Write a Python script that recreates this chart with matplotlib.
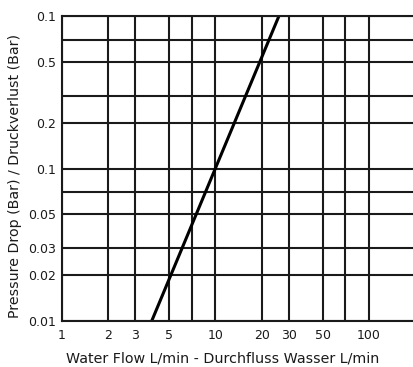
import matplotlib
matplotlib.use("Agg")
import matplotlib.pyplot as plt
from matplotlib.ticker import FixedLocator, FixedFormatter, NullFormatter

# Data
flow = [3.84, 25.9]          # L/min
pressure = [0.01, 1.0]       # bar

x_ticks = [1, 2, 3, 5, 10, 20, 30, 50, 100]
x_tick_labels = ["1", "2", "3", "5", "10", "20", "30", "50", "100"]
x_minor = [7, 70]
y_ticks = [0.01, 0.02, 0.03, 0.05, 0.1, 0.2, 0.5, 1.0]
y_tick_labels = ["0.01", "0.02", "0.03", "0.05", "0.1", "0.2", "0.5", "0.1"]
y_minor = [0.07, 0.3, 0.7]

W, H = 414, 367
fig = plt.figure(figsize=(W / 100, H / 100), dpi=100)
ax = fig.add_axes([62 / W, 1 - 321 / H, (W - 62) / W, (321 - 16) / H])

ax.set_xscale("log")
ax.set_yscale("log")
ax.set_xlim(1, 10 ** ((W - 62) / 153.5))
ax.set_ylim(0.01, 1.0)

ax.xaxis.set_major_locator(FixedLocator(x_ticks))
ax.xaxis.set_major_formatter(FixedFormatter(x_tick_labels))
ax.xaxis.set_minor_locator(FixedLocator(x_minor))
ax.xaxis.set_minor_formatter(NullFormatter())
ax.yaxis.set_major_locator(FixedLocator(y_ticks))
ax.yaxis.set_major_formatter(FixedFormatter(y_tick_labels))
ax.yaxis.set_minor_locator(FixedLocator(y_minor))
ax.yaxis.set_minor_formatter(NullFormatter())

ax.grid(True, which="both", color="#1a1a1a", linewidth=1.5)
ax.set_axisbelow(True)
ax.tick_params(which="both", length=0, labelsize=9, colors="#1a1a1a")
ax.tick_params(axis="y", pad=4)
ax.tick_params(axis="x", pad=6)

for s in ["left", "bottom", "top"]:
    ax.spines[s].set_color("#1a1a1a")
    ax.spines[s].set_linewidth(1.5)
ax.spines["right"].set_visible(False)

ax.plot(flow, pressure, color="black", linewidth=2.2, solid_capstyle="butt")

ax.set_xlabel("Water Flow L/min - Durchfluss Wasser L/min", fontsize=10.3, color="#1a1a1a")
ax.xaxis.set_label_coords(0.457, -0.1)
ax.set_ylabel("Pressure Drop (Bar) / Druckverlust (Bar)", fontsize=10.2, color="#1a1a1a")
ax.yaxis.set_label_coords(-0.113, 0.474)

fig.savefig("out.png", dpi=100)
